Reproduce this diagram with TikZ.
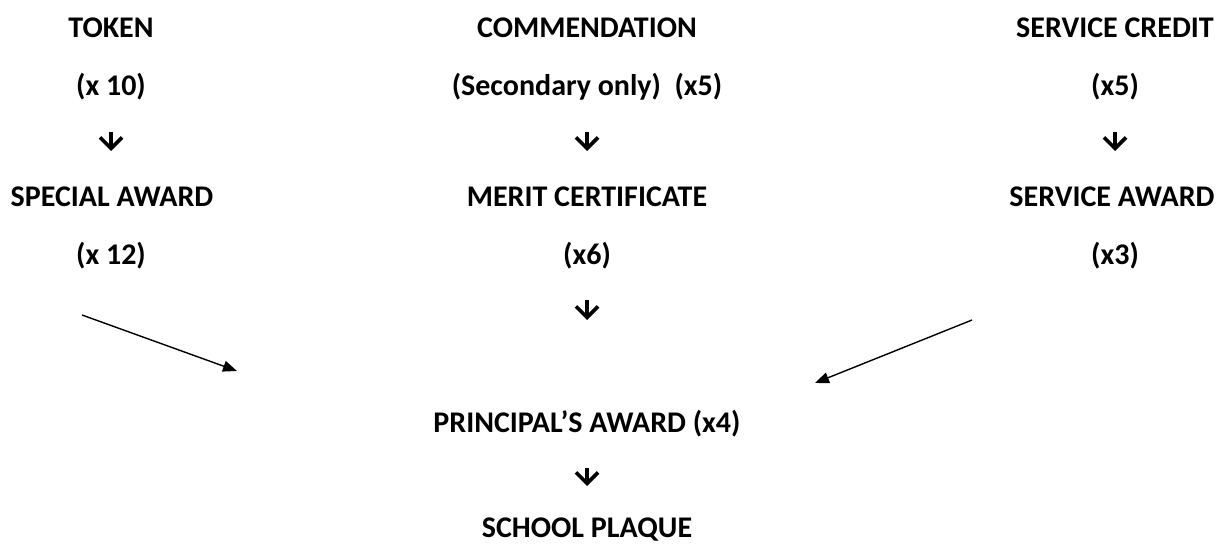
\documentclass[tikz,border=0pt]{standalone}
\usepackage{fontspec}
\setmainfont{Carlito}
\usetikzlibrary{arrows.meta}
\tikzset{
  txt/.style={font=\bfseries\fontsize{30}{36}\selectfont,inner sep=0pt,anchor=base},
  down/.style={-{Straight Barb[length=11pt,width=22pt,line width=3.6pt]},line width=3.6pt,shorten <=36pt,shorten >=56pt},
  slant/.style={-{Triangle[length=14pt,width=11pt]},line width=1.4pt}
}
\begin{document}
\begin{tikzpicture}[x=1pt,y=-1pt]
\useasboundingbox (0,0) rectangle (1217,545);
\node [txt,name=tok1] at (111,38){TOKEN};
\node [txt,name=tok2] at (111,96){(x 10)};
\node [txt,name=spec1] at (112,207){SPECIAL AWARD};
\node [txt,name=spec2] at (111,264){(x 12)};
\node [txt,name=com1] at (587,38){COMMENDATION};
\node [txt,name=com2] at (587,96){(Secondary only)\ \ (x5)};
\node [txt,name=mer1] at (587,207){MERIT CERTIFICATE};
\node [txt,name=mer2] at (587,264){(x6)};
\node [txt,name=ser1] at (1115,38){SERVICE CREDIT};
\node [txt,name=ser2] at (1115,96){(x5)};
\node [txt,name=sera1] at (1112,207){SERVICE AWARD};
\node [txt,name=sera2] at (1115,264){(x3)};
\node [txt,name=prin] at (587,432){PRINCIPAL’S AWARD (x4)};
\node [txt,name=plaq] at (587,537){SCHOOL PLAQUE};
\coordinate (lfrom) at (82,315);
\coordinate (lto) at (237,371);
\coordinate (rfrom) at (972,320);
\coordinate (rto) at (815,383);
\draw[down] (tok2.base)--(tok2.base |- spec1.base);
\draw[down] (com2.base)--(com2.base |- mer1.base);
\draw[down] (ser2.base)--(ser2.base |- sera1.base);
\draw[down,shorten >=112pt] (mer2.base)--(mer2.base |- prin.base);
\draw[down,shorten >=51pt] (prin.base)--(prin.base |- plaq.base);
\draw[slant] (lfrom)--(lto);
\draw[slant] (rfrom)--(rto);
\end{tikzpicture}
\end{document}
